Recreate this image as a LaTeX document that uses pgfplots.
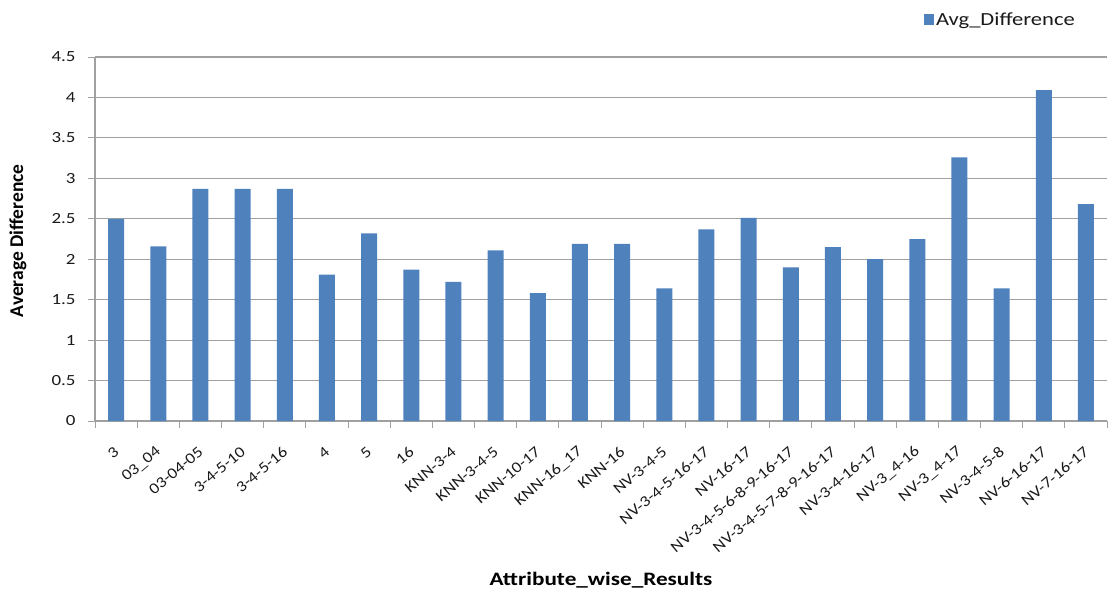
\documentclass[border=0pt]{standalone}
\usepackage{pgfplots}
\pgfplotsset{compat=1.18}
\usepackage{fontspec}
\setmainfont{Carlito}[FakeStretch=1.22]
\newfontfamily\plainfont{Carlito}
\newfontfamily\tickfont{Carlito}[FakeStretch=1.15]
\definecolor{barblue}{HTML}{4F81BD}
\definecolor{gridgray}{HTML}{A0A0A0}
\definecolor{txt}{HTML}{1A1A1A}
\begin{document}
\begin{tikzpicture}
\begin{axis}[
  scale only axis,
  width=1012pt, height=364pt,
  ymin=0, ymax=4.5,
  xmin=0.5, xmax=24.5,
  ytick={0,0.5,...,4.5},
  yticklabels={0,0.5,1,1.5,2,2.5,3,3.5,4,4.5},
  xtick={1,...,24},
  xticklabels={3,03\_04,03-04-05,3-4-5-10,3-4-5-16,4,5,16,KNN-3-4,KNN-3-4-5,KNN-10-17,KNN-16\_17,KNN-16,NV-3-4-5,NV-3-4-5-16-17,NV-16-17,NV-3-4-5-6-8-9-16-17,NV-3-4-5-7-8-9-16-17,NV-3-4-16-17,NV-3\_4-16,NV-3\_4-17,NV-3-4-5-8,NV-6-16-17,NV-7-16-17},
  minor xtick={0.5,1.5,...,24.5},
  major x tick style={draw=none},
  minor x tick style={draw=gridgray, line width=0.9pt},
  minor tick length=7pt,
  major tick length=7pt,
  xtick pos=bottom, ytick pos=left,
  tick align=outside,
  ytick style={draw=gridgray, line width=0.9pt},
  ymajorgrids,
  grid style={draw=gridgray, line width=1.1pt},
  axis x line*=bottom,
  axis y line*=left,
  axis line style={draw=gridgray, line width=1.1pt, -},
  tick label style={text=txt},
  yticklabel style={font=\fontsize{15.5}{17}\selectfont, xshift=-9pt},
  xticklabel style={font=\tickfont\fontsize{15.5}{17}\selectfont, rotate=40, anchor=east, xshift=-10.2pt, yshift=-17pt},
  ylabel={\textbf{Average Difference}},
  ylabel style={at={(axis description cs:-0.0761,0.495)}, anchor=center, font=\plainfont\fontsize{19.5}{21}\selectfont, text=black},
  xlabel={\textbf{Attribute\_wise\_Results}},
  xlabel style={at={(axis description cs:0.5,-0.437)}, anchor=center, font=\fontsize{19}{21}\selectfont, text=black},
  legend style={at={(1,1)}, anchor=east, xshift=-27pt, yshift=37pt, draw=none, fill=none, font=\fontsize{18.5}{20}\selectfont, text=txt},
  legend image code/.code={\fill[barblue] (-3pt,-5pt) rectangle (7pt,6pt);},
]
\addplot[ybar, bar width=16pt, fill=barblue, draw=none] coordinates {
(1,2.50) (2,2.16) (3,2.87) (4,2.87) (5,2.87) (6,1.81) (7,2.32) (8,1.87)
(9,1.72) (10,2.11) (11,1.58) (12,2.19) (13,2.19) (14,1.64) (15,2.37) (16,2.51)
(17,1.90) (18,2.15) (19,2.00) (20,2.25) (21,3.26) (22,1.64) (23,4.09) (24,2.68)
};
\addlegendentry{Avg\_Difference}
\end{axis}
\pgfresetboundingbox
\path[use as bounding box] ([xshift=-95pt,yshift=-170pt]current axis.south west) rectangle ([xshift=3pt,yshift=57pt]current axis.north east);
\end{tikzpicture}
\end{document}
